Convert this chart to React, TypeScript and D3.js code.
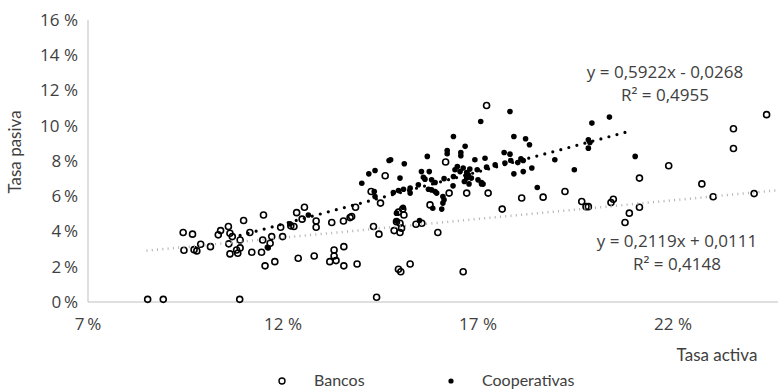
import * as d3 from "d3";

// Tasa activa / Tasa pasiva in %
const bancosX = [8.53, 8.93, 10.89, 9.44, 9.68, 9.46, 9.72, 9.79, 9.89, 10.14, 10.34, 10.4, 10.6, 10.64, 10.7, 10.61, 10.64, 10.81, 10.84, 10.9, 10.9, 10.99, 11.15, 11.2, 11.45, 11.5, 11.48, 11.54, 11.71, 11.67, 11.79, 11.99, 11.94, 12.2, 12.28, 12.35, 12.55, 12.49, 12.39, 12.8, 12.85, 12.85, 13.25, 13.31, 13.31, 13.2, 13.36, 13.56, 13.56, 13.9, 13.55, 13.72, 13.76, 13.86, 14.26, 14.62, 14.5, 14.32, 14.46, 14.4, 14.85, 14.91, 15.0, 15.04, 15.0, 14.96, 15.02, 15.26, 15.1, 15.07, 14.96, 15.41, 15.56, 15.97, 15.77, 16.26, 16.71, 17.26, 16.62, 17.62, 17.22, 16.17, 18.12, 18.67, 19.23, 19.66, 19.77, 19.83, 20.41, 20.47, 21.14, 20.88, 20.77, 24.4, 23.55, 23.55, 21.89, 21.14, 22.74, 24.08, 23.03];
const bancosY = [0.15, 0.15, 0.15, 3.94, 3.85, 2.94, 2.97, 2.9, 3.28, 3.14, 3.81, 4.05, 4.28, 3.9, 3.71, 3.3, 2.73, 2.95, 2.77, 3.52, 3.07, 4.62, 3.94, 2.82, 2.82, 4.94, 3.52, 2.05, 3.71, 3.33, 2.29, 3.71, 4.24, 4.32, 4.28, 5.07, 5.38, 4.7, 2.48, 2.61, 4.6, 4.24, 4.51, 2.95, 2.61, 2.29, 2.35, 3.14, 2.05, 2.16, 4.6, 4.79, 4.85, 5.38, 6.27, 7.16, 5.61, 4.28, 3.85, 0.27, 4.05, 4.56, 4.47, 4.19, 3.94, 1.86, 1.72, 2.16, 4.94, 5.28, 5.1, 4.41, 4.47, 3.94, 5.51, 6.18, 6.18, 6.18, 1.72, 5.27, 11.15, 7.94, 5.9, 5.95, 6.27, 5.7, 5.41, 5.41, 5.64, 5.83, 5.38, 5.04, 4.51, 10.63, 9.83, 8.71, 7.73, 7.03, 6.7, 6.15, 5.97];

const coopX = [11.6, 11.62, 12.18, 12.65, 14.02, 14.2, 14.36, 14.36, 14.72, 14.34, 15.26, 14.91, 15.08, 16.07, 16.13, 16.1, 16.36, 16.77, 17.09, 17.07, 16.37, 16.21, 16.21, 16.56, 16.56, 16.67, 14.76, 15.11, 15.7, 15.0, 15.55, 15.75, 15.6, 15.64, 15.81, 15.9, 15.73, 15.81, 15.9, 15.94, 16.1, 16.41, 16.47, 16.54, 16.62, 16.71, 16.79, 16.75, 16.83, 16.71, 16.65, 16.92, 17.18, 17.0, 17.09, 17.13, 16.98, 17.22, 17.44, 15.26, 14.83, 14.96, 15.09, 15.47, 17.82, 19.92, 20.37, 17.92, 18.22, 18.32, 17.67, 17.82, 17.69, 17.84, 18.02, 18.1, 18.16, 17.92, 18.16, 18.38, 18.97, 19.47, 19.83, 19.87, 19.83, 18.52, 21.03, 15.84, 14.91, 15.5, 16.13, 16.37];
const coopY = [3.1, 3.07, 4.43, 4.94, 6.74, 7.27, 7.46, 5.98, 8.03, 6.27, 6.18, 5.04, 5.38, 5.27, 5.8, 5.61, 6.59, 6.7, 6.7, 10.24, 9.39, 8.6, 8.41, 8.48, 8.3, 8.83, 8.07, 7.84, 8.26, 7.03, 7.4, 7.4, 7.08, 6.97, 6.93, 6.78, 6.4, 6.36, 6.27, 6.18, 5.98, 7.5, 7.69, 7.4, 7.6, 7.35, 7.54, 7.22, 7.03, 7.03, 6.84, 8.07, 8.16, 6.93, 6.78, 6.69, 7.5, 7.65, 7.78, 6.46, 6.21, 6.32, 6.4, 6.65, 10.81, 10.15, 10.49, 9.39, 9.26, 8.92, 8.48, 8.39, 7.88, 8.03, 7.91, 8.13, 8.03, 7.27, 7.4, 7.6, 8.07, 7.5, 9.2, 9.05, 8.73, 6.5, 8.26, 5.32, 4.6, 4.62, 7.0, 7.12];

// trend lines (x as fraction)
const coopFit = { a: 0.5922, b: -0.0268, from: 10.9, to: 20.95 };
const bancosFit = { a: 0.2119, b: 0.0111, from: 8.5, to: 25 };

const xTicks = [7, 12, 17, 22];
const yTicks = [0, 2, 4, 6, 8, 10, 12, 14, 16];

const W = 778, H = 390;
const txt = "#404040";

export default function App() {
  const x = d3.scaleLinear().domain([7, 27]).range([88, 868]);
  const y = d3.scaleLinear().domain([0, 16]).range([302, 20]);

  const fitLine = (f) => {
    const pts = [f.from, f.to].map((v) => [x(v), y((f.a * v / 100 + f.b) * 100)]);
    return d3.line()(pts);
  };

  const pctLabel = (v) => (v < 10 ? `${v}\u2009%` : `${v} %`);

  return (
    <svg width={W} height={H} style={{ position: "absolute", left: 0, top: 0, background: "#fff" }}>
      <line x1={x(7)} x2={W} y1={y(0)} y2={y(0)} stroke="#bfbfbf" strokeWidth={1} />
      <line x1={x(7)} x2={x(7)} y1={y(0)} y2={y(16)} stroke="#bfbfbf" strokeWidth={1} />

      {yTicks.map((t) => (
        <text key={t} x={78} y={y(t)} dy="0.35em" textAnchor="end" fontFamily="Open Sans" fontSize={17} fill={txt}>
          {pctLabel(t)}
        </text>
      ))}
      {xTicks.map((t) => (
        <text key={t} x={x(t)} y={324} dy="0.35em" textAnchor="middle" fontFamily="Open Sans" fontSize={17} fill={txt}>
          {pctLabel(t)}
        </text>
      ))}

      <g>
        {bancosX.map((v, i) => (
          <circle key={i} cx={x(v)} cy={y(bancosY[i])} r={3} fill="none" stroke="#000" strokeWidth={1.6} />
        ))}
      </g>
      <g>
        {coopX.map((v, i) => (
          <circle key={i} cx={x(v)} cy={y(coopY[i])} r={2.8} fill="#000" />
        ))}
      </g>

      <path d={fitLine(bancosFit)} stroke="#b0b0b0" strokeWidth={2.5} strokeDasharray="1 4.3" fill="none" />
      <path d={fitLine(coopFit)} stroke="#000" strokeWidth={3.2} strokeDasharray="0 8.3" strokeLinecap="round" fill="none" />

      <text x={665} y={78} textAnchor="middle" fontFamily="Open Sans" fontSize={17} fill={txt}>y = 0,5922x - 0,0268</text>
      <text x={665} y={101} textAnchor="middle" fontFamily="Open Sans" fontSize={17} fill={txt}>R² = 0,4955</text>
      <text x={677} y={247} textAnchor="middle" fontFamily="Open Sans" fontSize={17} fill={txt}>y = 0,2119x + 0,0111</text>
      <text x={677} y={270} textAnchor="middle" fontFamily="Open Sans" fontSize={17} fill={txt}>R² = 0,4148</text>

      <text x={717} y={355} dy="0.35em" textAnchor="middle" fontFamily="Lato" fontSize={17} fill={txt}>Tasa activa</text>
      <text transform={`translate(15,152) rotate(-90)`} dy="0.35em" textAnchor="middle" fontFamily="Lato" fontSize={17} fill={txt}>Tasa pasiva</text>

      <circle cx={282} cy={381} r={3} fill="none" stroke="#000" strokeWidth={1.4} />
      <text x={314} y={386} fontFamily="Lato" fontSize={16} fill={txt}>Bancos</text>
      <circle cx={451} cy={381} r={2.6} fill="#000" />
      <text x={482} y={386} fontFamily="Lato" fontSize={16} fill={txt}>Cooperativas</text>
    </svg>
  );
}
